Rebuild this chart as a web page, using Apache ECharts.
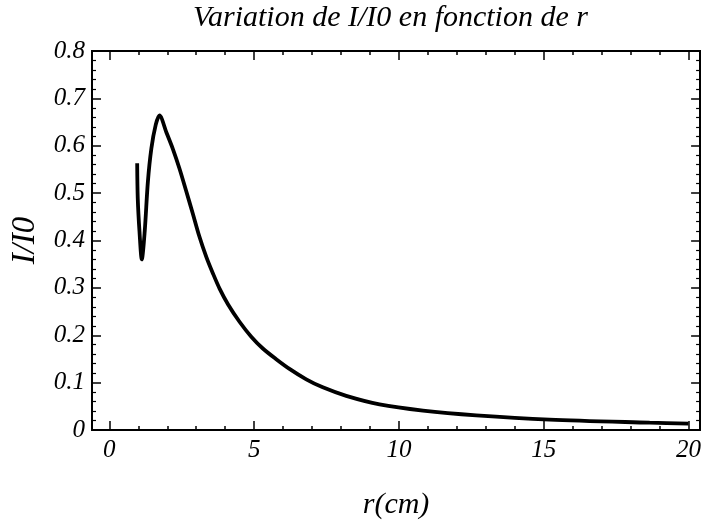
<!DOCTYPE html>
<html>
<head>
<meta charset="utf-8">
<script src="https://cdn.jsdelivr.net/npm/echarts@6/dist/echarts.min.js"></script>
<style>html,body{margin:0;padding:0;background:#fff;}#c{width:704px;height:525px;}</style>
</head>
<body>
<div id="c"></div>
<script>
// Data
const rValues = [0.96, 0.98, 1.04, 1.12, 1.22, 1.33, 1.45, 1.60, 1.73, 1.97, 2.20, 2.42, 2.65, 2.88, 3.10, 3.35, 3.58, 3.81, 4.10, 4.50, 4.90, 5.30, 5.75, 6.22, 6.80, 7.37, 8.18, 9.33, 10.83, 12.67, 15.2, 18.66, 20.0];
const intensity = [0.563, 0.489, 0.419, 0.360, 0.419, 0.524, 0.594, 0.644, 0.664, 0.628, 0.592, 0.552, 0.505, 0.457, 0.410, 0.365, 0.330, 0.298, 0.265, 0.228, 0.197, 0.172, 0.150, 0.129, 0.107, 0.090, 0.072, 0.054, 0.041, 0.031, 0.022, 0.0155, 0.0135];
const xMajorTicks = [0, 5, 10, 15, 20];
const xMinorTicks = [1, 2, 3, 4, 6, 7, 8, 9, 11, 12, 13, 14, 16, 17, 18, 19];
const titleText = 'Variation de I/I0 en fonction de r';
const xName = 'r(cm)';
const yName = 'I/I0';

const FONT = 'Liberation Serif';
const chart = echarts.init(document.getElementById('c'));
const tickStyle = { color: '#000', width: 1.5 };
function xAxisDef(pos, ticks, len, labels) {
  return {
    type: 'value', position: pos, min: -0.6, max: 20.4,
    axisLine: { show: true, onZero: false, lineStyle: { color: '#000', width: 2 } },
    axisTick: { show: true, inside: true, length: len, customValues: ticks, lineStyle: tickStyle },
    axisLabel: labels ? { show: true, customValues: ticks, color: '#000', fontFamily: FONT, fontStyle: 'italic', fontSize: 25, margin: 8 } : { show: false },
    splitLine: { show: false },
    name: labels ? xName : '', nameLocation: 'middle', nameGap: 60,
    nameTextStyle: { color: '#000', fontFamily: FONT, fontStyle: 'italic', fontSize: 30 }
  };
}
function yAxisDef(pos, labels) {
  return {
    type: 'value', position: pos, min: 0, max: 0.8, interval: 0.1,
    axisLine: { show: true, onZero: false, lineStyle: { color: '#000', width: 2 } },
    axisTick: { show: true, inside: true, length: 9, lineStyle: tickStyle },
    minorTick: { show: true, splitNumber: 5, length: 4, lineStyle: { color: '#000', width: 1.2 } },
    axisLabel: labels ? { show: true, color: '#000', fontFamily: FONT, fontStyle: 'italic', fontSize: 25, margin: 7,
      formatter: v => (Math.abs(v) < 1e-9 ? '0' : v.toFixed(1)) } : { show: false },
    splitLine: { show: false }, minorSplitLine: { show: false },
    name: labels ? yName : '', nameLocation: 'middle', nameGap: 50,
    nameTextStyle: { color: '#000', fontFamily: FONT, fontStyle: 'italic', fontSize: 33 }
  };
}
chart.setOption({
  animation: false,
  backgroundColor: '#fff',
  title: { text: titleText, left: 188, top: -2,
    textStyle: { color: '#000', fontFamily: FONT, fontStyle: 'italic', fontWeight: 'normal', fontSize: 30 } },
  grid: { left: 92, right: 3, top: 51, bottom: 95, show: false },
  xAxis: [
    xAxisDef('bottom', xMajorTicks, 9, true),
    xAxisDef('bottom', xMinorTicks, 4, false),
    xAxisDef('top', xMajorTicks, 9, false),
    xAxisDef('top', xMinorTicks, 4, false)
  ],
  yAxis: [yAxisDef('left', true), yAxisDef('right', false)],
  series: [{
    type: 'line', xAxisIndex: 0, yAxisIndex: 0,
    data: rValues.map((r, i) => [r, intensity[i]]),
    showSymbol: false, smooth: 0.3,
    lineStyle: { color: '#000', width: 3.8 }
  }]
});
</script>
</body>
</html>
